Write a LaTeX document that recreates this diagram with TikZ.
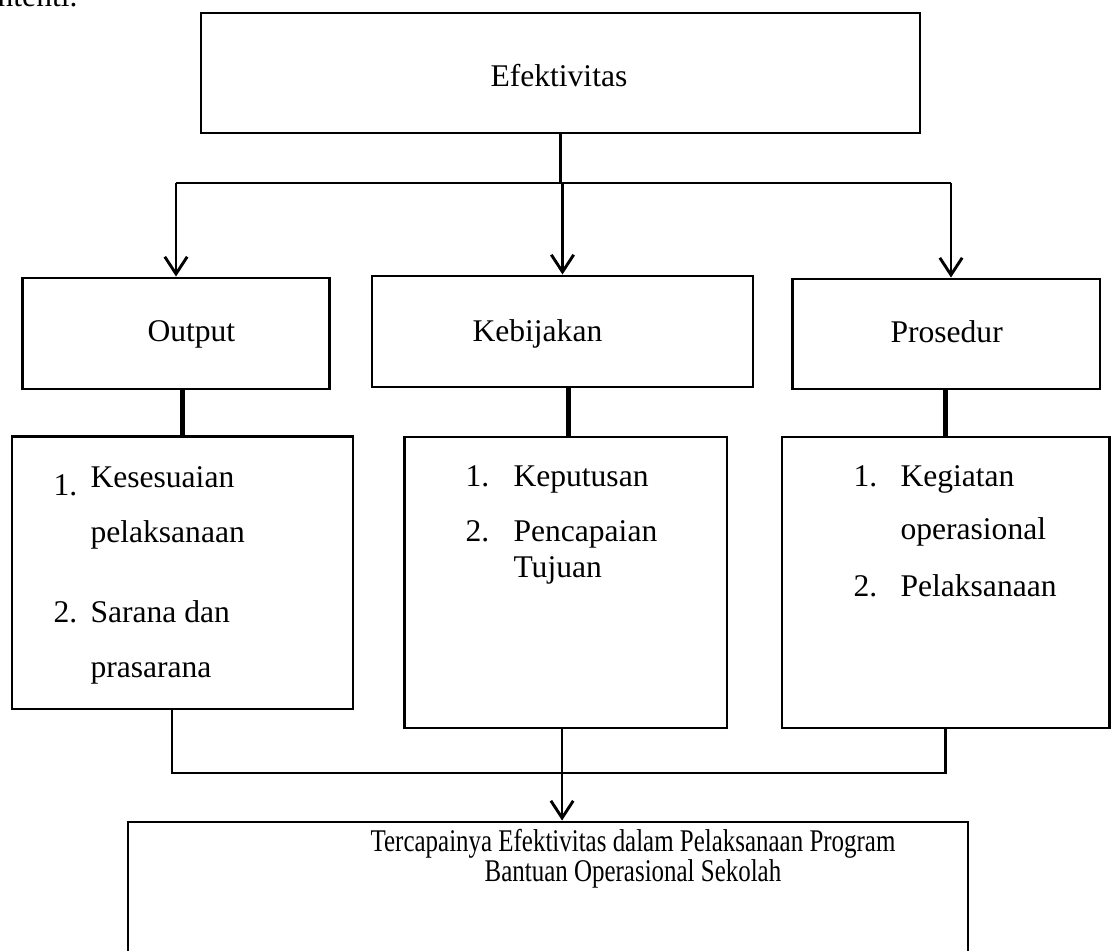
\documentclass[tikz,border=0pt]{standalone}
\usepackage{fontspec}
\usepackage{graphicx}
\setmainfont{Liberation Serif}
\usetikzlibrary{positioning,arrows.meta}

\tikzset{
  box/.style={draw, line width=1.1pt, inner sep=0pt},
  lbl/.style={inner sep=0pt, anchor=base west},
  link/.style={line width=1.1pt},
  heavy/.style={line width=1.9pt},
  arr/.style={-{Straight Barb[length=6.5pt,width=8.5pt,line width=1.1pt]}},
}

\begin{document}
\begin{tikzpicture}[x=0.38pt,y=-0.38pt,font=\fontsize{12pt}{14pt}\selectfont]
\useasboundingbox (0,0) rectangle (1112,951);
% text cut by the page edge
\node[inner sep=0pt, anchor=base east] (cut) at (78,7) {antenti.};
% boxes
\node[box, minimum width=273.2pt, minimum height=45.6pt] (top) at (560.5,73) {};
\node[box, minimum width=117pt, minimum height=42.2pt] (out) at (176,333.5) {};
\node[box, minimum width=144.8pt, minimum height=42.2pt] (keb) at (562.5,331.5) {};
\node[box, minimum width=117pt, minimum height=41.8pt] (pro) at (946,334) {};
\node[box, minimum width=129.6pt, minimum height=103.4pt] (outd) at (182.5,573) {};
\node[box, minimum width=122.7pt, minimum height=110.6pt] (kebd) at (565.5,582.5) {};
\node[box, minimum width=124.3pt, minimum height=110.6pt] (prod) at (945.5,582.5) {};
\node[box, minimum width=319.2pt, minimum height=76pt] (bot) at (548,922) {};
% labels
\node[lbl] (efk) at (490,87) {Efektivitas};
\node[lbl] (outl) at (147,342) {Output};
\node[lbl] (kebl) at (472,342) {Kebijakan};
\node[lbl] (prol) at (890,343) {Prosedur};
% output items
\node[lbl] (o1n) at (53,496) {1.};
\node[lbl] (o1a) at (90,488) {Kesesuaian};
\node[lbl] (o1b) at (90,543) {pelaksanaan};
\node[lbl] (o2n) at (53,623) {2.};
\node[lbl] (o2a) at (90,623) {Sarana dan};
\node[lbl] (o2b) at (90,678) {prasarana};
% kebijakan items
\node[lbl] (k1n) at (465,487) {1.};
\node[lbl] (k1a) at (513,487) {Keputusan};
\node[lbl] (k2n) at (465,542) {2.};
\node[lbl] (k2a) at (513,542) {Pencapaian};
\node[lbl] (k2b) at (513,578) {Tujuan};
% prosedur items
\node[lbl] (p1n) at (853,487) {1.};
\node[lbl] (p1a) at (900,487) {Kegiatan};
\node[lbl] (p1b) at (900,540) {operasional};
\node[lbl] (p2n) at (853,597) {2.};
\node[lbl] (p2a) at (900,597) {Pelaksanaan};
% result text
\node[inner sep=0pt, anchor=base] (res1) at (633,852) {\scalebox{0.79}[1]{Tercapainya Efektivitas dalam Pelaksanaan Program}};
\node[inner sep=0pt, anchor=base] (res2) at (633,882) {\scalebox{0.79}[1]{Bantuan Operasional Sekolah}};
% connectors
\coordinate (split) at (560.5,183);
\coordinate (join) at (562,773);
\draw[link] (top.south) -- (split);
\draw[link] (out.north |- split) -- ([xshift=1.9pt]pro.north |- split);
\draw[link,arr] (out.north |- split) -- (out.north);
\draw[link,arr] (keb.north |- split) -- (keb.north);
\draw[link,arr] ([xshift=1.9pt]pro.north |- split) -- ([xshift=1.9pt]pro.north);
\draw[heavy] (outd.north |- out.south) -- (outd.north);
\draw[heavy] ([xshift=1.3pt]kebd.north |- keb.south) -- ([xshift=1.3pt]kebd.north);
\draw[heavy] (prod.north |- pro.south) -- (prod.north);
\draw[link] ([xshift=-4pt]outd.south) -- ([xshift=-4pt]outd.south |- join) -- (join -| prod.south) -- (prod.south);
\draw[line width=0.8pt,arr] ([xshift=-1.3pt]kebd.south) -- ([xshift=-1.3pt]kebd.south |- bot.north);
\end{tikzpicture}
\end{document}
